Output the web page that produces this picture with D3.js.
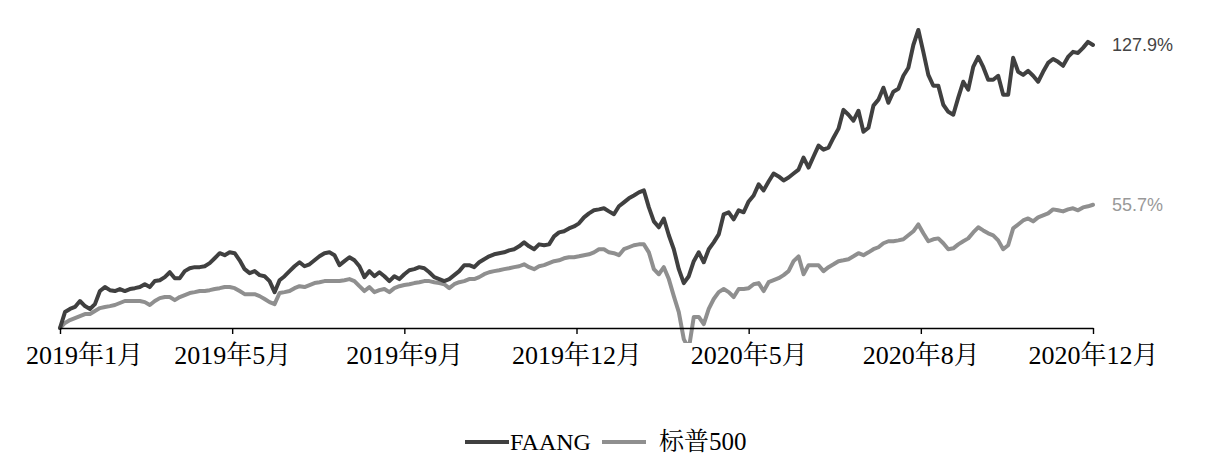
<!DOCTYPE html>
<html><head><meta charset="utf-8">
<script src="https://cdn.jsdelivr.net/npm/d3@7"></script>
<style>
html,body{margin:0;padding:0;background:#fff;}
svg{display:block;}
</style></head>
<body>
<svg id="chart" width="1215" height="464"></svg>
<script>
// Tick labels (evenly spaced along the series)
const tickLabels = ["2019年1月","2019年5月","2019年9月","2019年12月","2020年5月","2020年8月","2020年12月"];
const seriesNames = ["FAANG","标普500"];

// Cumulative return (%) since start
const faang = [0,7.2,8.6,9.5,12.2,9.9,8.6,10.8,16.7,18.5,17.1,16.7,17.6,16.7,17.6,18.0,18.5,19.8,18.5,21.2,
21.6,23.0,25.2,22.5,22.5,25.7,27.0,27.5,27.5,27.9,29.3,31.5,33.8,32.9,34.2,33.8,30.6,26.6,24.8,25.7,
23.9,23.4,21.2,16.2,21.6,23.4,25.7,27.9,29.7,27.9,28.8,30.6,32.4,33.8,34.2,32.9,28.4,30.2,32.0,30.6,
27.9,23.0,25.7,23.4,25.2,23.4,21.2,23.4,22.1,24.3,26.1,26.6,27.5,27.0,25.2,23.0,22.1,21.2,22.1,23.9,
25.7,28.4,28.4,27.5,29.7,31.1,32.4,33.3,33.8,34.2,35.1,35.6,36.9,38.7,36.9,35.6,37.8,37.4,37.8,41.4,
43.2,43.7,45.0,45.9,47.3,50.0,51.8,53.2,53.6,54.1,52.7,51.4,55.0,56.8,58.6,59.9,61.3,62.2,54.5,48.2,
45.5,49.5,41.9,35.6,26.6,20.3,23.4,30.2,34.2,29.7,35.6,38.7,42.3,51.4,52.3,49.1,53.2,52.3,57.2,59.9,
64.9,62.2,66.2,69.8,68.5,66.7,68.0,69.8,71.6,77.0,72.5,77.5,82.4,80.6,81.5,86.0,90.1,98.6,96.4,93.7,
98.2,88.7,90.5,100.5,103.2,108.6,101.8,106.8,108.1,114.0,117.6,127.9,134.7,124.8,114.4,109.5,109.5,100.9,97.7,96.4,
104.1,111.3,107.7,118.0,122.5,118.0,112.2,112.2,114.0,105.4,105.4,122.1,115.8,114.4,116.2,114.0,111.3,115.8,119.8,121.6,
120.3,118.5,122.5,124.8,124.3,126.6,129.3,127.9];

const sp500 = [0,2.3,3.6,4.5,5.4,6.3,6.3,7.7,9.0,9.5,9.9,10.4,11.3,12.2,12.2,12.2,12.2,11.7,10.4,12.2,
13.5,14.0,14.0,12.6,14.0,14.9,15.8,16.2,16.7,16.7,17.1,17.6,18.0,18.5,18.5,18.0,16.7,15.3,15.3,15.3,
14.4,13.1,11.7,10.8,15.8,16.2,16.7,18.0,18.9,18.5,19.4,20.3,20.7,21.2,21.2,21.2,21.2,21.6,22.1,21.2,
18.9,16.7,18.5,16.2,17.1,17.6,16.2,18.0,18.9,19.4,19.8,20.3,20.7,21.2,21.2,20.7,20.3,19.8,18.0,19.8,
20.7,21.2,22.1,22.1,23.0,24.3,25.2,25.7,26.1,26.6,27.0,27.5,27.9,28.8,27.5,26.6,27.9,28.4,29.3,30.2,
30.6,31.5,32.0,32.0,32.4,32.9,33.3,34.2,35.6,35.6,34.2,33.8,32.9,35.6,36.5,37.4,37.8,37.8,34.2,26.6,
24.3,27.5,22.1,14.4,7.2,-5.0,-9.5,5.0,5.0,1.8,8.6,13.1,16.2,17.6,16.2,14.0,17.6,17.6,18.0,19.8,
20.3,16.7,20.7,21.6,22.5,23.9,25.7,30.2,32.4,24.3,28.4,28.4,28.4,25.7,27.5,28.8,30.2,30.6,31.1,32.4,
33.8,32.9,34.2,35.6,36.5,38.3,39.2,39.2,39.6,40.1,41.9,43.7,46.8,42.8,39.2,40.1,40.5,38.3,35.6,36.0,
37.8,39.2,40.5,43.2,45.5,44.1,42.8,41.9,39.6,35.6,37.4,45.0,46.8,48.6,49.5,48.2,50.0,50.9,51.8,53.6,
53.2,52.7,53.6,54.1,53.2,54.5,55.0,55.7];

const colors = ["#404040","#8f8f8f"];
const series = [faang, sp500];

const svg = d3.select("#chart");
const n = faang.length;
const x = d3.scaleLinear().domain([0, n - 1]).range([60, 1093]);
const y = d3.scaleLinear().domain([0, 127.9]).range([328, 45]);

const tickIdx = tickLabels.map((d, i) => i * (n - 1) / (tickLabels.length - 1));

svg.append("defs").append("clipPath").attr("id","plotclip")
  .append("rect").attr("x", 0).attr("y", 0).attr("width", 1215).attr("height", 343);

const line = d3.line().x((d, i) => x(i)).y(d => y(d)).curve(d3.curveLinear);

const g = svg.append("g").attr("clip-path","url(#plotclip)");
[1,0].forEach(s => {
  g.append("path").datum(series[s])
    .attr("d", line)
    .attr("fill","none")
    .attr("stroke", colors[s])
    .attr("stroke-width", 4)
    .attr("stroke-linejoin","round")
    .attr("stroke-linecap","round");
});

// x axis
const axis = d3.axisBottom(x).tickValues(tickIdx)
  .tickFormat((d, i) => tickLabels[i]).tickSize(6).tickSizeOuter(0);
const ax = svg.append("g").attr("transform", `translate(0,${y(0)})`).call(axis);
ax.select(".domain").attr("stroke","#000").attr("stroke-width",1.6);
ax.selectAll(".tick line").attr("stroke","#000").attr("stroke-width",1.4);
ax.selectAll(".tick text")
  .attr("y", 36).attr("dy", 0)
  .attr("fill","#000")
  .style("font-family","'Liberation Serif','Noto Serif CJK SC','Noto Sans CJK SC',serif")
  .style("font-size","26px");
ax.selectAll(".tick text").filter((d, i) => i === 0).attr("dx", 24);

// end labels
const endVals = [faang[n-1], sp500[n-1]];
endVals.forEach((v, s) => {
  svg.append("text")
    .attr("x", x(n - 1) + 19)
    .attr("y", y(v))
    .attr("dy","0.35em")
    .attr("fill", s === 0 ? "#444" : "#999")
    .style("font-family","'Liberation Sans',Arial,sans-serif")
    .style("font-size","18px")
    .text(v.toFixed(1) + "%");
});

// legend
const legend = svg.append("g").attr("transform","translate(0,442)");
const legendItems = [
  {x1: 465, x2: 509, tx: 510, name: seriesNames[0], c: colors[0], fs: 24},
  {x1: 602, x2: 646, tx: 659, name: seriesNames[1], c: colors[1], fs: 25}
];
legendItems.forEach(it => {
  legend.append("line").attr("x1", it.x1).attr("x2", it.x2).attr("y1", 0).attr("y2", 0)
    .attr("stroke", it.c).attr("stroke-width", 4);
  legend.append("text").attr("x", it.tx).attr("y", 8)
    .attr("fill","#000")
    .style("font-family","'Liberation Serif','Noto Serif CJK SC','Noto Sans CJK SC',serif")
    .style("font-size", it.fs + "px")
    .text(it.name);
});
</script>
</body></html>
